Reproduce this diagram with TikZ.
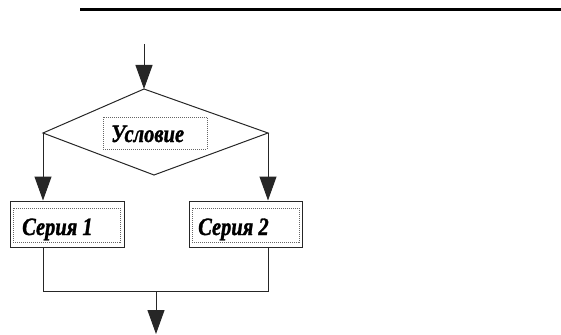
\documentclass[tikz,border=0pt]{standalone}
\usepackage{fontspec}
\setmainfont{Liberation Serif}
\newfontfamily\lblfont{Liberation Serif}[FakeStretch=0.82,FakeBold=1.2]
\usetikzlibrary{arrows.meta}
\tikzset{
  conn/.style={line width=1pt, draw=black!85},
  arr/.style={conn, -{Triangle[width=17pt,length=24pt]}},
  outerbox/.style={draw=black!85, line width=1pt, minimum width=114pt, minimum height=46pt, inner sep=0pt},
  innerbox/.style={draw=black!60, dash pattern=on 1pt off 1pt, line width=0.9pt, inner sep=0pt},
  lbl/.style={font=\lblfont\fontsize{25}{25}\selectfont\bfseries\itshape, inner sep=0pt, anchor=base west}
}
\begin{document}
\begin{tikzpicture}[x=1pt,y=-1pt]
\useasboundingbox (0,0) rectangle (561,334);
% top rule
\coordinate (ruleL) at (80,10);
\coordinate (ruleR) at (561,10);
\draw[line width=3pt] (ruleL) -- (ruleR);
% diamond
\coordinate (start) at (144,44);
\coordinate (dT) at (144,89);
\coordinate (dL) at (43,133);
\coordinate (dR) at (268,133);
\coordinate (dB) at (154,175);
\draw[conn, line join=miter] (dT) -- (dR) -- (dB) -- (dL) -- cycle;
\node[innerbox, minimum width=104pt, minimum height=32pt] (condbox) at (155,133) {};
\node[lbl] (cond) at (111,142) {Условие};
% boxes
\node[outerbox] (s1) at (67,224) {};
\node[innerbox, minimum width=107pt, minimum height=34pt] (s1in) at (66.5,225) {};
\node[lbl] (s1t) at (22,235) {Серия 1};
\node[outerbox, minimum width=113pt] (s2) at (245.5,224) {};
\node[innerbox, minimum width=107pt, minimum height=34pt] (s2in) at (245.5,225) {};
\node[lbl] (s2t) at (198,235) {Серия 2};
% join
\coordinate (jL) at (43,291);
\coordinate (jR) at (268,291);
\coordinate (jM) at (156,291);
\coordinate (end) at (156,334);
% connectors
\draw[arr] (start) -- (dT);
\draw[arr] (dL) -- (dL |- s1.north);
\draw[arr] (dR) -- (dR |- s2.north);
\draw[conn] (dL |- s1.south) -- (jL) -- (jR) -- (dR |- s2.south);
\draw[arr] (jM) -- (end);
\end{tikzpicture}
\end{document}
